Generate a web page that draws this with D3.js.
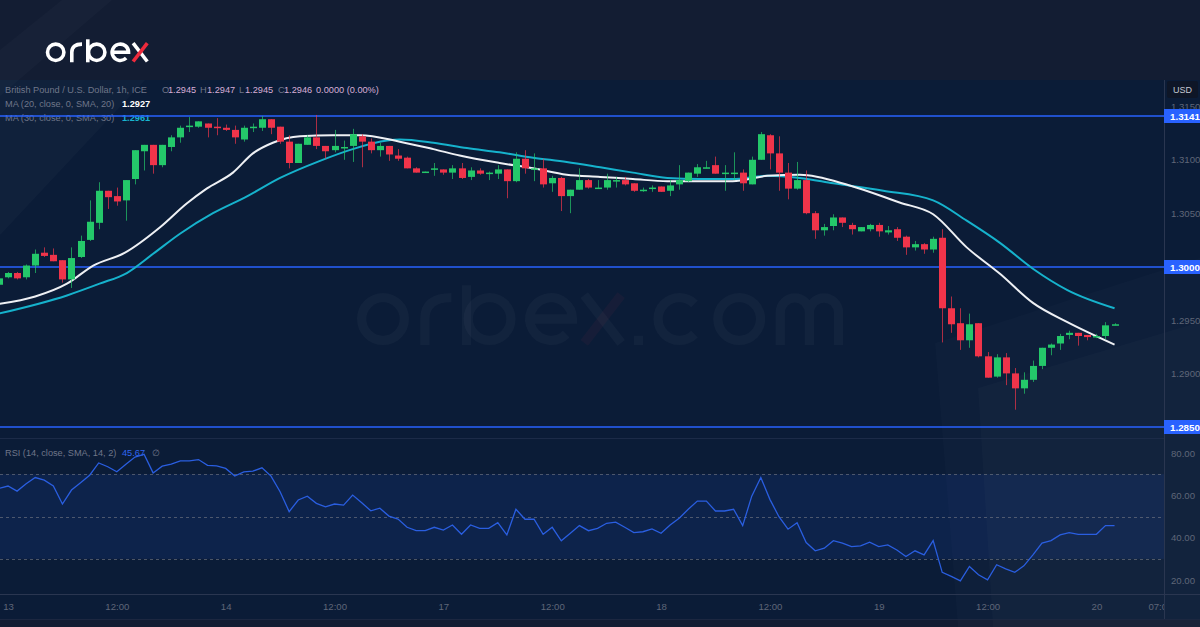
<!DOCTYPE html>
<html><head><meta charset="utf-8">
<script src="https://cdn.jsdelivr.net/npm/d3@7"></script>
<style>html,body{margin:0;padding:0;background:#0b1c37;} svg{display:block}</style>
</head><body><svg id="c" width="1200" height="627"></svg>
<script>
// ---------- DATA ----------
// candle index: -1 = last bar of 12th, 0 = 13th 00:00, 1h bars
const firstIndex = -1;
const opens = [1.2983,1.2990,1.2994,1.2990,1.3001,1.3013,1.3011,1.3006,1.2988,1.3009,1.3025,1.3041,1.3071,1.3066,1.3062,1.3082,1.3108,1.3114,1.3095,1.3112,1.3121,1.3131,1.3131,1.3134,1.3131,1.3130,1.3128,1.3119,1.3130,1.3130,1.3138,1.3131,1.3117,1.3097,1.3114,1.3121,1.3113,1.3109,1.3112,1.3113,1.3122,1.3117,1.3109,1.3113,1.3104,1.3102,1.3092,1.3089,1.3091,1.3091,1.3088,1.3092,1.3084,1.3090,1.3087,1.3087,1.3091,1.3080,1.3101,1.3092,1.3092,1.3078,1.3083,1.3066,1.3072,1.3081,1.3074,1.3074,1.3080,1.3081,1.3078,1.3072,1.3073,1.3075,1.3071,1.3077,1.3080,1.3087,1.3093,1.3095,1.3087,1.3088,1.3088,1.3077,1.3100,1.3123,1.3106,1.3088,1.3073,1.3081,1.3050,1.3034,1.3038,1.3046,1.3039,1.3033,1.3035,1.3039,1.3032,1.3035,1.3028,1.3018,1.3021,1.3016,1.3027,1.2961,1.2947,1.2931,1.2947,1.2916,1.2897,1.2915,1.2900,1.2886,1.2894,1.2907,1.2924,1.2928,1.2936,1.2938,1.2936,1.2934,1.2935,1.2945];
const highs = [1.2991,1.2995,1.2995,1.3002,1.3016,1.3018,1.3017,1.3006,1.3018,1.3029,1.3062,1.3079,1.3071,1.3074,1.3081,1.3109,1.3114,1.3114,1.3114,1.3123,1.3132,1.3140,1.3136,1.3134,1.3139,1.3133,1.3132,1.3132,1.3134,1.3141,1.3138,1.3131,1.3123,1.3115,1.3123,1.3142,1.3113,1.3128,1.3118,1.3129,1.3124,1.3120,1.3116,1.3113,1.3110,1.3103,1.3093,1.3089,1.3097,1.3091,1.3095,1.3097,1.3093,1.3092,1.3089,1.3095,1.3091,1.3107,1.3109,1.3106,1.3101,1.3085,1.3084,1.3072,1.3092,1.3082,1.3081,1.3087,1.3084,1.3084,1.3078,1.3074,1.3076,1.3075,1.3081,1.3095,1.3088,1.3096,1.3099,1.3103,1.3095,1.3107,1.3091,1.3103,1.3126,1.3124,1.3122,1.3097,1.3098,1.3090,1.3052,1.3040,1.3049,1.3046,1.3041,1.3037,1.3040,1.3041,1.3038,1.3037,1.3029,1.3024,1.3022,1.3028,1.3035,1.2972,1.2961,1.2956,1.2947,1.2920,1.2918,1.2919,1.2905,1.2901,1.2912,1.2924,1.2928,1.2937,1.2940,1.2938,1.2936,1.2937,1.2948,1.2947];
const lows = [1.2982,1.2989,1.2988,1.2988,1.2994,1.3009,1.3005,1.2985,1.2980,1.3008,1.3024,1.3035,1.3054,1.3057,1.3043,1.3077,1.3090,1.3087,1.3093,1.3108,1.3116,1.3126,1.3130,1.3121,1.3123,1.3127,1.3115,1.3117,1.3126,1.3127,1.3124,1.3115,1.3092,1.3097,1.3114,1.3110,1.3101,1.3107,1.3100,1.3098,1.3093,1.3106,1.3103,1.3099,1.3099,1.3092,1.3088,1.3088,1.3085,1.3086,1.3082,1.3082,1.3081,1.3086,1.3081,1.3082,1.3064,1.3079,1.3087,1.3080,1.3074,1.3070,1.3052,1.3050,1.3072,1.3073,1.3073,1.3072,1.3074,1.3076,1.3070,1.3070,1.3070,1.3070,1.3066,1.3072,1.3079,1.3084,1.3092,1.3087,1.3071,1.3081,1.3071,1.3077,1.3100,1.3091,1.3071,1.3063,1.3072,1.3049,1.3026,1.3029,1.3034,1.3037,1.3030,1.3033,1.3033,1.3028,1.3030,1.3024,1.3011,1.3015,1.3012,1.3013,1.2929,1.2938,1.2922,1.2924,1.2915,1.2896,1.2896,1.2889,1.2866,1.2881,1.2892,1.2904,1.2917,1.2922,1.2932,1.2926,1.2931,1.2933,1.2932,1.2945];
const closes = [1.2989,1.2994,1.2989,1.3001,1.3012,1.3010,1.3005,1.2988,1.3008,1.3024,1.3042,1.3071,1.3065,1.3061,1.3081,1.3109,1.3114,1.3095,1.3114,1.3121,1.3130,1.3132,1.3136,1.3130,1.3130,1.3128,1.3121,1.3130,1.3131,1.3138,1.3130,1.3117,1.3097,1.3115,1.3121,1.3113,1.3108,1.3113,1.3112,1.3124,1.3117,1.3109,1.3113,1.3105,1.3101,1.3092,1.3088,1.3089,1.3092,1.3088,1.3092,1.3083,1.3090,1.3087,1.3088,1.3091,1.3080,1.3101,1.3092,1.3092,1.3077,1.3083,1.3066,1.3072,1.3081,1.3074,1.3074,1.3081,1.3081,1.3077,1.3071,1.3072,1.3074,1.3070,1.3076,1.3081,1.3088,1.3093,1.3093,1.3087,1.3088,1.3088,1.3078,1.3100,1.3124,1.3106,1.3088,1.3073,1.3081,1.3050,1.3034,1.3037,1.3046,1.3041,1.3035,1.3037,1.3039,1.3033,1.3034,1.3027,1.3018,1.3021,1.3016,1.3026,1.2961,1.2946,1.2931,1.2946,1.2916,1.2896,1.2915,1.2900,1.2886,1.2894,1.2907,1.2924,1.2927,1.2935,1.2938,1.2935,1.2934,1.2935,1.2945,1.2946];
const rsiValues = [63.3,64.4,62.0,65.5,68.4,67.2,64.4,55.9,62.5,66.0,69.5,75.3,73.5,71.1,74.7,78.1,79.4,70.6,73.8,74.7,76.3,76.3,76.9,74.2,73.9,72.7,69.1,71.1,71.4,73.0,69.1,61.7,52.3,57.8,59.6,56.2,54.6,55.9,55.4,60.1,56.5,52.7,53.9,50.2,48.8,44.9,43.3,43.3,44.9,43.6,46.0,41.6,46.0,44.4,44.4,47.1,41.3,53.4,48.7,48.7,41.6,44.9,38.5,42.1,45.7,43.3,44.4,46.8,47.3,44.9,42.4,42.8,44.1,42.1,46.0,49.2,53.4,57.3,57.3,52.6,52.6,53.4,45.7,59.6,68.4,58.1,49.9,44.0,47.1,37.7,33.8,35.0,38.6,37.4,35.8,36.1,37.9,35.8,36.6,34.2,31.1,33.8,31.9,38.6,23.6,21.7,19.6,26.4,22.5,20.1,27.2,25.3,23.6,26.7,31.9,37.4,38.6,41.3,42.4,41.6,41.6,41.6,45.7,45.67];
// moving averages (bar index, value)
const ma20Index = [-1,3,6.5,9.4,12.9,16.8,19.7,21.9,24.8,27,29.2,32.2,35.8,38.8,43.2,46.9,49.8,54.2,57.9,61.6,65.3,68.9,72.7,76.3,79.9,83.7,87.3,92.8,98.3,102,105.7,109.4,113,116.8,122];
const ma20Value = [1.2965,1.2972,1.2984,1.3001,1.3013,1.3037,1.3059,1.3073,1.3088,1.3106,1.3116,1.3122,1.3123,1.3123,1.3117,1.3110,1.3104,1.3097,1.3092,1.3086,1.3084,1.3082,1.3080,1.3080,1.3080,1.3085,1.3086,1.3076,1.3060,1.3049,1.3018,1.2993,1.2966,1.2948,1.2927];
const ma30Index = [-1,6.5,10.1,13.1,16,19,22.6,26.4,30,34.4,38,41.8,43.2,46.9,50.6,54.2,57.9,61.6,65.3,68.9,72.7,76.3,79.9,83.7,87.3,91,96.5,102,105.7,109.4,113,116.8,122];
const ma30Value = [1.2956,1.2973,1.2984,1.2994,1.3012,1.3031,1.3050,1.3066,1.3083,1.3099,1.3110,1.3118,1.3119,1.3116,1.3111,1.3107,1.3102,1.3098,1.3093,1.3088,1.3083,1.3082,1.3082,1.3085,1.3083,1.3078,1.3071,1.3062,1.3043,1.3022,1.2998,1.2978,1.2961];
const levelValues = [1.3141, 1.3000, 1.2850];
const priceTicks = [1.3150, 1.3100, 1.3050, 1.3000, 1.2950, 1.2900, 1.2850];
const rsiTicks = [80, 60, 40, 20];
const rsiBands = [70, 50, 30];
const timeTickIndex = [0, 12, 24, 36, 48, 60, 72, 84, 96, 108, 120, 127];
const timeTickLabels = ["13", "12:00", "14", "12:00", "17", "12:00", "18", "12:00", "19", "12:00", "20", "07:00"];

(function () {
// ---------- LAYOUT ----------
const svg = d3.select("#c");
const W = 1200, H = 627, plotR = 1164, plotTop = 80, paneSep = 438, axisTop = 594, axisBot = 619;
const FONT = "'Liberation Sans', Arial, sans-serif";
const x = d3.scaleLinear().domain([-1, 127]).range([-1.07, 1159.9]);
const y = d3.scaleLinear().domain([1.2850, 1.3150]).range([426.8, 106.4]);
const yr = d3.scaleLinear().domain([20, 80]).range([580, 453]);

const candles = opens.map((o, k) => ({i: k + firstIndex, o, h: highs[k], l: lows[k], c: closes[k]}));

// backgrounds
svg.append("rect").attr("width", W).attr("height", H).attr("fill", "#131d33");
svg.append("rect").attr("x", 0).attr("y", plotTop).attr("width", W).attr("height", axisBot - plotTop).attr("fill", "#0b1c37");

const deco = svg.append("g");
deco.append("polygon").attr("points", "0,80 145,80 0,235").attr("fill", "rgba(255,255,255,0.022)");
deco.append("polygon").attr("points", "62,0 112,0 0,96 0,50").attr("fill", "rgba(255,255,255,0.018)");
deco.append("polygon").attr("points", "935,343 1200,258 1200,627 958,627").attr("fill", "rgba(255,255,255,0.016)");
deco.append("polygon").attr("points", "978,388 1200,322 1200,627 993,627").attr("fill", "rgba(255,255,255,0.018)");

// geometric orbex letters
function letterPaths(ch) {
  const r = 8.2;
  switch (ch) {
    case "o": return [{d: `M18.2,10 A${r},${r} 0 1 1 1.8,10 A${r},${r} 0 1 1 18.2,10`}];
    case "r": return [{d: "M1.8,20 V10 Q1.8,1.8 12,1.8"}];
    case "b": return [{d: "M1.8,-3 V20"}, {d: `M18.9,10 A${r},${r} 0 1 1 2.5,10 A${r},${r} 0 1 1 18.9,10`}];
    case "e": return [{d: `M1.8,10 H18.55 A${r},${r} 0 1 0 16.15,15.8`}];
    case "x": return [{d: "M1.4,0.8 L15.6,19.2"}, {d: "M1.4,19.2 L15.6,0.8", red: true}];
    case ".": return [{d: "M0.5,18.2 H4"}];
    case "c": return [{d: `M15.8,4.2 A${r},${r} 0 1 0 15.8,15.8`}];
    case "m": return [{d: "M1.8,20 V7.5 A5.6,5.6 0 0 1 13,7.5 V20 M13,7.5 A5.6,5.6 0 0 1 24.2,7.5 V20"}];
  }
  return [];
}
const letterOffsets = {o: 0, r: 24.3, b: 40.3, e: 64.3, x: 86, ".": 106, c: 114, o2: 137, m: 161};
function drawWord(g, word, keys, x0, y0, s, white, red) {
  const grp = g.append("g").attr("transform", `translate(${x0},${y0}) scale(${s})`)
    .attr("fill", "none").attr("stroke-width", 3.6);
  word.split("").forEach((ch, k) => {
    const off = letterOffsets[keys[k]];
    letterPaths(ch).forEach(p => {
      grp.append("path").attr("d", p.d).attr("transform", `translate(${off},0)`)
        .attr("stroke", p.red ? red : white);
    });
  });
}
// watermark
drawWord(svg.append("g"), "orbex.com", ["o","r","b","e","x",".","c","o2","m"], 357, 293, 2.6, "rgba(255,255,255,0.03)", "rgba(240,60,80,0.05)");
// logo
drawWord(svg.append("g"), "orbex", ["o","r","b","e","x"], 45.7, 42.3, 1, "#ffffff", "#ee2a3c");

// RSI band
svg.append("rect").attr("x", 0).attr("width", plotR).attr("y", yr(70)).attr("height", yr(30) - yr(70))
  .attr("fill", "rgba(41,98,255,0.1)");
svg.append("g").selectAll("line").data(rsiBands).join("line")
  .attr("x1", 0).attr("x2", plotR).attr("y1", d => Math.round(yr(d)) + 0.5).attr("y2", d => Math.round(yr(d)) + 0.5)
  .attr("stroke", "#787b86").attr("stroke-opacity", 0.6).attr("stroke-dasharray", "3,3");

// pane separator and axes lines
svg.append("line").attr("x1", 0).attr("x2", plotR).attr("y1", paneSep + 0.5).attr("y2", paneSep + 0.5).attr("stroke", "#1c2b48");
svg.append("line").attr("x1", 0).attr("x2", W).attr("y1", axisTop + 0.5).attr("y2", axisTop + 0.5).attr("stroke", "#2a3650");
svg.append("line").attr("x1", 0).attr("x2", W).attr("y1", axisBot + 0.5).attr("y2", axisBot + 0.5).attr("stroke", "#1c2740");
svg.append("line").attr("x1", plotR + 0.5).attr("x2", plotR + 0.5).attr("y1", plotTop).attr("y2", axisBot).attr("stroke", "#2a3650");

// legend texts
const leg = svg.append("g").attr("font-family", FONT).attr("font-size", 9.2);
function seg(yv, parts) {
  const t = leg.append("text").attr("y", yv);
  parts.forEach(p => t.append("tspan").attr("x", p[0]).attr("fill", p[2]).attr("font-weight", p[3] || 400).text(p[1]));
}
const gray = "#6f7689", lil = "#d7aed6";
seg(93, [[5, "British Pound / U.S. Dollar, 1h, ICE", gray], [162, "O", gray], [168, "1.2945", lil], [200, "H", gray], [207, "1.2947", lil], [239, "L", gray], [245, "1.2945", lil], [278, "C", gray], [284, "1.2946", lil], [316, "0.0000 (0.00%)", lil]]);
seg(107, [[5, "MA (20, close, 0, SMA, 20)", gray], [122, "1.2927", "#ffffff", 700]]);
seg(121, [[5, "MA (30, close, 0, SMA, 30)", gray], [122, "1.2961", "#18b4cf", 700]]);
seg(456, [[5, "RSI (14, close, SMA, 14, 2)", gray], [122, "45.67", "#2f66f0"], [152, "∅", gray]]);

// clip for plot
svg.append("clipPath").attr("id", "plotclip").append("rect").attr("x", 0).attr("y", plotTop).attr("width", plotR).attr("height", axisTop - plotTop);
const plot = svg.append("g").attr("clip-path", "url(#plotclip)");

// level lines
plot.selectAll("line.lvl").data(levelValues).join("line").attr("class", "lvl")
  .attr("x1", 0).attr("x2", plotR).attr("y1", d => Math.round(y(d))).attr("y2", d => Math.round(y(d)))
  .attr("stroke", "#2962ff").attr("stroke-width", 1.6);

// MA lines
const maLine = d3.line().x(d => x(d[0])).y(d => y(d[1])).curve(d3.curveMonotoneX);
plot.append("path").attr("d", maLine(ma30Index.map((v, k) => [v, ma30Value[k]])))
  .attr("fill", "none").attr("stroke", "#16b2cc").attr("stroke-width", 2);
plot.append("path").attr("d", maLine(ma20Index.map((v, k) => [v, ma20Value[k]])))
  .attr("fill", "none").attr("stroke", "#eef0f4").attr("stroke-width", 2);

// candles
const GREEN = "#24c86a", RED = "#f0344a";
const cg = plot.append("g");
cg.selectAll("line").data(candles).join("line")
  .attr("x1", d => Math.round(x(d.i)) + 0.5).attr("x2", d => Math.round(x(d.i)) + 0.5)
  .attr("y1", d => y(d.h)).attr("y2", d => y(d.l))
  .attr("stroke", d => d.c >= d.o ? GREEN : RED).attr("stroke-opacity", 0.7);
cg.selectAll("rect").data(candles).join("rect")
  .attr("x", d => Math.round(x(d.i)) - 3).attr("width", 7)
  .attr("y", d => y(Math.max(d.o, d.c)))
  .attr("height", d => Math.max(1.5, y(Math.min(d.o, d.c)) - y(Math.max(d.o, d.c))))
  .attr("fill", d => d.c >= d.o ? GREEN : RED);

// RSI line
const rsiLine = d3.line().x((d, k) => x(k + firstIndex)).y(d => yr(d));
plot.append("path").attr("d", rsiLine(rsiValues)).attr("fill", "none").attr("stroke", "#2a5ee0").attr("stroke-width", 1.3);

// price axis
const pax = svg.append("g").attr("transform", `translate(${plotR},0)`)
  .call(d3.axisRight(y).tickValues(priceTicks).tickFormat(d3.format(".4f")).tickSize(0).tickPadding(7));
pax.select(".domain").remove();
pax.selectAll("text").attr("fill", "#5f6678").attr("font-family", FONT).attr("font-size", 9.6);

// level labels
const lbl = svg.append("g").selectAll("g").data(levelValues).join("g")
  .attr("transform", d => `translate(${plotR},${Math.round(y(d))})`);
lbl.append("rect").attr("x", 0).attr("y", -7).attr("width", 36).attr("height", 14).attr("fill", "#2962ff");
lbl.append("text").attr("x", 6).attr("y", 3.6).attr("fill", "#ffffff").attr("font-family", FONT)
  .attr("font-size", 9.8).attr("font-weight", 700).text(d => d3.format(".4f")(d));

// USD box
svg.append("rect").attr("x", 1167).attr("y", 81).attr("width", 31).attr("height", 17).attr("rx", 2).attr("fill", "#0e1627");
svg.append("text").attr("x", 1182.5).attr("y", 93).attr("text-anchor", "middle").attr("fill", "#c5c9d3")
  .attr("font-family", FONT).attr("font-size", 9).text("USD");

// RSI axis
const rax = svg.append("g").attr("transform", `translate(${plotR},0)`)
  .call(d3.axisRight(yr).tickValues(rsiTicks).tickFormat(d3.format(".2f")).tickSize(0).tickPadding(7));
rax.select(".domain").remove();
rax.selectAll("text").attr("fill", "#5f6678").attr("font-family", FONT).attr("font-size", 9.6);

// time axis
svg.append("clipPath").attr("id", "xclip").append("rect").attr("x", 0).attr("y", axisTop).attr("width", plotR).attr("height", axisBot - axisTop);
const xax = svg.append("g").attr("clip-path", "url(#xclip)").append("g").attr("transform", `translate(0,${axisTop})`)
  .call(d3.axisBottom(x).tickValues(timeTickIndex).tickFormat((d, k) => timeTickLabels[k]).tickSize(0).tickPadding(9));
xax.select(".domain").remove();
xax.selectAll("text").attr("fill", "#5f6678").attr("font-family", FONT).attr("font-size", 9.6);
})();
</script>
</body></html>
